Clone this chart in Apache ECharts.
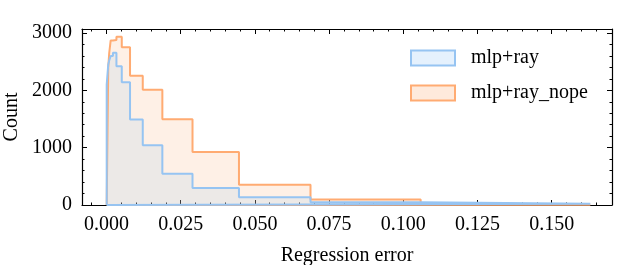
<!DOCTYPE html>
<html>
<head>
<meta charset="utf-8">
<script src="https://cdn.jsdelivr.net/npm/echarts@6/dist/echarts.min.js"></script>
<style>html,body{margin:0;padding:0;background:#fff}#c{width:640px;height:265px}</style>
</head>
<body>
<div id="c"></div>
<script>
// Histogram bin edges (shared by both series)
const binEdges = [0.00007, 0.000595, 0.000916, 0.00141, 0.00217, 0.00335, 0.00515, 0.00793, 0.01222, 0.01882, 0.02898, 0.04463, 0.06873, 0.10584, 0.163];
// Counts per bin
const countsRay = [2100, 2450, 2520, 2600, 2655, 2420, 2140, 1490, 1044, 547, 295, 137, 50, 20];
const countsRayNope = [0, 2400, 2650, 2870, 2880, 2935, 2751, 2254, 2009, 1495, 926, 354, 96, 3];
const seriesNames = ['mlp+ray', 'mlp+ray_nope'];
// Axis ticks
const xMajorTicks = [0, 0.025, 0.05, 0.075, 0.1, 0.125, 0.15];
const xMinorTicks = [-0.005, 0.005, 0.01, 0.015, 0.02, 0.03, 0.035, 0.04, 0.045, 0.055, 0.06, 0.065, 0.07, 0.08, 0.085, 0.09, 0.095, 0.105, 0.11, 0.115, 0.12, 0.13, 0.135, 0.14, 0.145, 0.155, 0.16, 0.165];
const yMajorTicks = [0, 1000, 2000, 3000];
const yMinorTicks = [200, 400, 600, 800, 1200, 1400, 1600, 1800, 2200, 2400, 2600, 2800];
const X_MIN = -0.00825, X_MAX = 0.1703, Y_MIN = 0, Y_MAX = 3070;

function stepPoints(edges, counts) {
  const pts = [[edges[0], 0]];
  for (let i = 0; i < counts.length; i++) pts.push([edges[i], counts[i]]);
  pts.push([edges[edges.length - 1], counts[counts.length - 1]]);
  pts.push([edges[edges.length - 1], 0]);
  pts.push([edges[0], 0]);
  return pts;
}

const FONT = 'Liberation Serif';
const blueLine = '#96c4f2', blueFill = 'rgba(140,195,245,0.22)';
const orangeLine = '#ffab72', orangeFill = 'rgba(252,180,130,0.28)';
const gridRect = {left: 82, top: 29, width: 530, height: 176, containLabel: false, outerBoundsMode: 'none'};

function xAx(grid, pos, ticks, len, labels, extra) {
  return Object.assign({
    type: 'value', gridIndex: grid, position: pos, min: X_MIN, max: X_MAX,
    splitLine: {show: false},
    axisLine: {show: grid === 0, onZero: false, lineStyle: {color: '#000', width: 1.2}},
    axisTick: {show: true, inside: true, length: len, customValues: ticks, lineStyle: {color: '#000', width: 1}},
    axisLabel: labels ? {show: true, customValues: ticks, formatter: v => v.toFixed(3), fontFamily: FONT, fontSize: 20, color: '#000', margin: 10}
                      : {show: false},
    minorTick: {show: false}
  }, extra || {});
}
function yAx(grid, pos, ticks, len, labels, extra) {
  return Object.assign({
    type: 'value', gridIndex: grid, position: pos, min: Y_MIN, max: Y_MAX,
    splitLine: {show: false},
    axisLine: {show: grid === 0, onZero: false, lineStyle: {color: '#000', width: 1.2}},
    axisTick: {show: true, inside: true, length: len, customValues: ticks, lineStyle: {color: '#000', width: 1}},
    axisLabel: labels ? {show: true, customValues: ticks, formatter: v => String(v), fontFamily: FONT, fontSize: 20, color: '#000', margin: 10}
                      : {show: false},
    minorTick: {show: false}
  }, extra || {});
}

const chart = echarts.init(document.getElementById('c'), null, {renderer: 'canvas'});
chart.setOption({
  animation: false,
  backgroundColor: '#fff',
  grid: [Object.assign({}, gridRect), Object.assign({}, gridRect)],
  xAxis: [
    xAx(0, 'bottom', xMajorTicks, 5, true, {name: 'Regression error', nameLocation: 'middle', nameGap: 41, nameMoveOverlap: false, nameTextStyle: {fontFamily: FONT, fontSize: 20, color: '#000'}}),
    xAx(0, 'top', xMajorTicks, 5, false),
    xAx(1, 'bottom', xMinorTicks, 2.5, false),
    xAx(1, 'top', xMinorTicks, 2.5, false)
  ],
  yAxis: [
    yAx(0, 'left', yMajorTicks, 5, true, {name: 'Count', nameLocation: 'middle', nameGap: 60, nameMoveOverlap: false, nameTextStyle: {fontFamily: FONT, fontSize: 20, color: '#000'}}),
    yAx(0, 'right', yMajorTicks, 5, false),
    yAx(1, 'left', yMinorTicks, 2.5, false),
    yAx(1, 'right', yMinorTicks, 2.5, false)
  ],
  legend: {
    orient: 'vertical', left: 405, top: 43, itemWidth: 44, itemHeight: 15, itemGap: 15,
    textStyle: {fontFamily: FONT, fontSize: 20, color: '#000', padding: [0, 0, 0, 11]},
    data: [
      {name: seriesNames[0], icon: 'rect', itemStyle: {color: 'rgb(229,241,253)', borderColor: blueLine, borderWidth: 2}},
      {name: seriesNames[1], icon: 'rect', itemStyle: {color: 'rgb(254,234,220)', borderColor: orangeLine, borderWidth: 2}}
    ]
  },
  series: [
    {
      name: seriesNames[1], type: 'line', xAxisIndex: 0, yAxisIndex: 0, step: 'end', showSymbol: false, symbol: 'none',
      data: stepPoints(binEdges, countsRayNope),
      lineStyle: {color: orangeLine, width: 2}, itemStyle: {color: orangeLine},
      areaStyle: {color: orangeFill, origin: 'start'}
    },
    {
      name: seriesNames[0], type: 'line', xAxisIndex: 0, yAxisIndex: 0, step: 'end', showSymbol: false, symbol: 'none',
      data: stepPoints(binEdges, countsRay),
      lineStyle: {color: blueLine, width: 2}, itemStyle: {color: blueLine},
      areaStyle: {color: blueFill, origin: 'start'}
    }
  ]
});
</script>
</body>
</html>
